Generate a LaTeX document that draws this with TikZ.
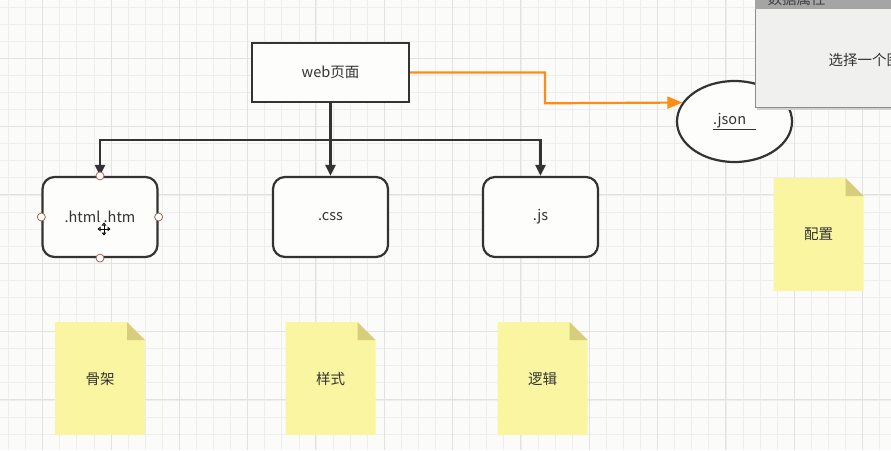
\documentclass[tikz,border=0pt]{standalone}
\usepackage{fontspec}
\setmainfont{Noto Sans CJK SC}
\usetikzlibrary{arrows.meta,shapes.geometric}

\definecolor{canvas}{RGB}{251,251,250}
\definecolor{gridminor}{RGB}{238,238,238}
\definecolor{gridmajor}{RGB}{226,226,226}
\definecolor{ink}{RGB}{51,51,51}
\definecolor{boxfill}{RGB}{253,253,252}
\definecolor{flow}{RGB}{255,140,20}
\definecolor{noteY}{RGB}{250,245,160}
\definecolor{noteF}{RGB}{214,205,125}
\definecolor{handle}{RGB}{170,95,85}
\definecolor{dlgbg}{RGB}{240,240,239}
\definecolor{dlgbar}{RGB}{165,165,165}
\definecolor{dlgedge}{RGB}{140,140,140}

\tikzset{
  lbl/.style={font=\fontsize{14.5}{16}\selectfont, text=ink},
  pagebox/.style={draw=ink, line width=2.2pt, fill=boxfill, minimum width=157pt, minimum height=59pt, inner sep=0pt, lbl},
  filebox/.style={draw=ink, line width=2.2pt, fill=boxfill, rounded corners=12pt, minimum width=115pt, minimum height=80pt, inner sep=0pt, lbl},
  cfgshape/.style={ellipse, draw=ink, line width=2.2pt, fill=boxfill, minimum width=115pt, minimum height=81pt, inner sep=0pt, lbl},
  conn/.style={draw=ink, line width=2.2pt, -{Triangle[length=11pt,width=10pt]}},
  trunk/.style={draw=ink, line width=2.2pt},
  orangeflow/.style={draw=flow, line width=2.2pt, -{Triangle[length=15pt,width=12pt]}},
  handledot/.style={circle, draw=handle, line width=0.8pt, fill=white, minimum size=8pt, inner sep=0pt},
  note/.style={minimum width=90pt, minimum height=113pt, inner sep=0pt, lbl,
    path picture={
      \fill[noteY] (path picture bounding box.south west) -- (path picture bounding box.north west)
        -- ([xshift=-18pt]path picture bounding box.north east)
        -- ([yshift=-18pt]path picture bounding box.north east)
        -- (path picture bounding box.south east) -- cycle;
      \fill[noteF] ([xshift=-18pt]path picture bounding box.north east)
        -- ([yshift=-18pt]path picture bounding box.north east)
        -- ([xshift=-18pt,yshift=-18pt]path picture bounding box.north east) -- cycle;
    }},
  movetip/.style={draw=black, line width=0.9pt, -{Triangle[length=3pt,width=4.5pt,fill=white]}}
}

\begin{document}
\begin{tikzpicture}[x=1pt, y=-1pt]
  % canvas and grid
  \fill[canvas] (0,0) rectangle (891,450);
  \useasboundingbox (0,0) rectangle (891,450);
  \foreach \k in {0,...,52} {
    \draw[gridminor, line width=0.8pt] ({8.54+17.08*\k},0) -- ({8.54+17.08*\k},450);
  }
  \foreach \k in {0,...,26} {
    \draw[gridminor, line width=0.8pt] (0,{7.06+17.08*\k}) -- (891,{7.06+17.08*\k});
  }
  \foreach \k in {0,...,12} {
    \draw[gridmajor, line width=1pt] ({42.7+68.3*\k},0) -- ({42.7+68.3*\k},450);
  }
  \foreach \k in {0,...,6} {
    \draw[gridmajor, line width=1pt] (0,{58.3+68.3*\k}) -- (891,{58.3+68.3*\k});
  }

  % main nodes
  \node[pagebox] (web) at (330.5,72.5) {web页面};
  \node[filebox] (html) at (100,217) {.html .htm};
  \node[filebox] (css) at (330.5,217) {.css};
  \node[filebox] (js) at (540.5,217) {.js};
  \node[cfgshape] (json) at (734.5,121.5) {\underline{.json\,\,\,\,}};

  % tree connectors
  \coordinate (split) at (330.5,140);
  \draw[trunk] (web.south) -- (split);
  \draw[conn] (split) -| (html.north);
  \draw[conn] (split) -- (css.north);
  \draw[conn] (split) -| (js.north);

  % orange connector
  \coordinate (bend) at (545,103.3);
  \draw[orangeflow] (web.east) -| (bend) -- (json.160.5);

  % selection handles
  \node[handledot] (hn) at (html.north) {};
  \node[handledot] (hs) at (html.south) {};
  \node[handledot] (hw) at (html.west) {};
  \node[handledot] (he) at (html.east) {};

  % move cursor
  \coordinate (mv) at (104,229);
  \draw[movetip] (mv) -- ++(0,-6.5);
  \draw[movetip] (mv) -- ++(0,6.5);
  \draw[movetip] (mv) -- ++(-6.5,0);
  \draw[movetip] (mv) -- ++(6.5,0);

  % notes
  \node[note] (n1) at (100,378.5) {骨架};
  \node[note] (n2) at (330.5,378.5) {样式};
  \node[note] (n3) at (542.5,378.5) {逻辑};
  \node[note] (n4) at (818.5,234.5) {配置};

  % property panel
  \fill[black!18] (757,2) rectangle (893,110);
  \fill[dlgbg] (755,0) rectangle (891,108);
  \draw[dlgedge, line width=1pt] (755.5,0) -- (755.5,107.5) -- (891,107.5);
  \fill[dlgbar] (755,0) rectangle (891,8.5);
  \begin{scope}
    \clip (755,0) rectangle (891,8.5);
    \node[font=\fontsize{14.5}{16}\selectfont, text=black!75, anchor=base west] (ptitle) at (764,4) {数据属性};
  \end{scope}
  \begin{scope}
    \clip (755,0) rectangle (891,108);
    \node[font=\fontsize{14.5}{16}\selectfont, text=ink, anchor=west, inner sep=0pt] (phint) at (828.5,59.5) {选择一个图};
  \end{scope}
\end{tikzpicture}
\end{document}
